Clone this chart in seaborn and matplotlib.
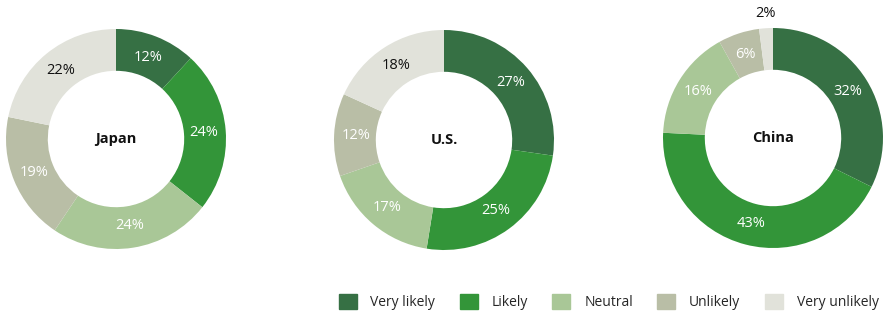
import matplotlib.pyplot as plt
import matplotlib.patches as mpatches
import seaborn as sns

categories = ['Very likely', 'Likely', 'Neutral', 'Unlikely', 'Very unlikely']
countries = ['Japan', 'U.S.', 'China']
japan = [12, 24, 24, 19, 22]
us = [27, 25, 17, 12, 18]
china = [32, 43, 16, 6, 2]
colors = ['#367044', '#339539', '#a9c797', '#b9bea6', '#e1e2da']
text_colors = ['white', 'white', 'white', 'white', '#111111']

sns.set_theme(style='white')
plt.rcParams['font.family'] = ['Open Sans', 'DejaVu Sans']

W, H = 887, 313
fig = plt.figure(figsize=(W / 100, H / 100), dpi=100)

centers = [(116, 139), (444, 140), (773, 138)]
R = 110


def donut(ax, values, title):
    wedges, texts, autotexts = ax.pie(
        values, colors=colors, startangle=90, counterclock=False,
        radius=1, wedgeprops=dict(width=0.38, linewidth=0),
        autopct=lambda p: f'{p:.0f}%', pctdistance=0.8,
        textprops=dict(fontsize=10.5))
    for i, t in enumerate(autotexts):
        t.set_color(text_colors[i])
        if values[i] < 4:
            x, y = t.get_position()
            t.set_position((x / 0.8 * 1.13, y / 0.8 * 1.13))
            t.set_color('#111111')
    ax.text(0, 0, title, ha='center', va='center', fontsize=10.5, fontweight='bold', color='#111111')
    ax.set_xlim(-1, 1)
    ax.set_ylim(-1, 1)
    ax.set_aspect('equal')
    ax.axis('off')


for (cx, cy), vals, name in zip(centers, [japan, us, china], countries):
    ax = fig.add_axes([(cx - R) / W, (H - cy - R) / H, 2 * R / W, 2 * R / H])
    donut(ax, vals, name)

handles = [mpatches.Patch(color=c, label=l) for c, l in zip(colors, categories)]
fig.legend(handles=handles, loc='center left', bbox_to_anchor=(333 / W, 1 - 302 / H),
           ncol=5, frameon=False, fontsize=10, handlelength=1.3, handleheight=1.3,
           handletextpad=1.0, columnspacing=1.75, borderaxespad=0)

fig.savefig('out.png', dpi=100)
